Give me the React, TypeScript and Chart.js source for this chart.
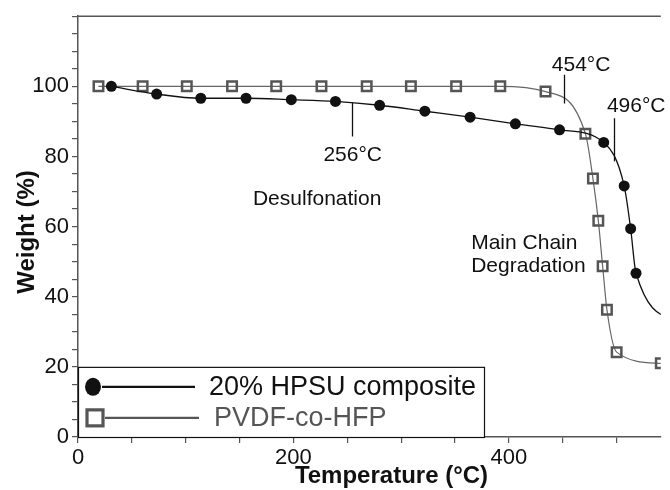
import React, { useEffect, useRef } from 'react';
import { Chart, registerables } from 'chart.js';

Chart.register(...registerables);

// ---- data ----
const HPSU_T = [31, 73, 114, 156, 198, 239, 280, 322, 364, 406, 447, 488, 507, 513, 518, 560];
const HPSU_W = [100, 97.8, 96.6, 96.6, 96.2, 95.7, 94.6, 92.9, 91.2, 89.3, 87.6, 84.0, 71.6, 59.4, 46.7, 32];
const PVDF_T = [19, 60, 101, 143, 184, 226, 268, 309, 351, 392, 434, 471, 478, 483, 487, 491, 500, 541, 585];
const PVDF_W = [100, 100, 100, 100, 100, 100, 100, 100, 100, 100, 98.5, 86.5, 73.7, 61.7, 48.7, 36.3, 24.2, 21.0, 19.8];
const SERIES_NAMES = ['20% HPSU composite', 'PVDF-co-HFP'];
const X_TICKS = [0, 50, 100, 150, 200, 250, 300, 350, 400, 450, 500];
const X_LABELED = [0, 200, 400];
const Y_TICKS = [0, 5, 10, 15, 20, 25, 30, 35, 40, 45, 50, 55, 60, 65, 70, 75, 80, 85, 90, 95, 100, 105, 110, 115, 120];
const Y_LABELED = [0, 20, 40, 60, 80, 100];
const X_TITLE = 'Temperature (°C)';
const Y_TITLE = 'Weight (%)';

// annotation texts and marker lines, in data units
const NOTES = [
  { text: '454°C', x: 467, y: 106.1, align: 'center' },
  { text: '496°C', x: 491, y: 94.2, align: 'left' },
  { text: '256°C', x: 255, y: 80.3, align: 'center' },
  { text: 'Desulfonation', x: 222, y: 67.8, align: 'center' },
  { text: 'Main Chain', x: 365, y: 55.3, align: 'left' },
  { text: 'Degradation', x: 365, y: 48.8, align: 'left' },
];
const MARKS = [
  { x: 451, y1: 103.3, y2: 95.1 },
  { x: 498, y1: 90.9, y2: 78.6 },
  { x: 254.5, y1: 95.4, y2: 85.7 },
];

const FONT = '"Liberation Sans", Arial, Helvetica, sans-serif';
const AXIS = '#555';
const INK = '#111';
const GREY = '#555';

const decor = {
  id: 'decor',
  afterDraw(chart: any) {
    const { ctx, chartArea: ca } = chart;
    const xs = chart.scales.x;
    const ys = chart.scales.y;
    ctx.save();
    // top frame line
    ctx.strokeStyle = AXIS;
    ctx.lineWidth = 1.5;
    ctx.beginPath();
    ctx.moveTo(ca.left, ca.top);
    ctx.lineTo(ca.right, ca.top);
    ctx.stroke();

    // marker lines
    ctx.strokeStyle = INK;
    ctx.lineWidth = 1.3;
    for (const m of MARKS) {
      const px = Math.round(xs.getPixelForValue(m.x)) + 0.5;
      ctx.beginPath();
      ctx.moveTo(px, ys.getPixelForValue(m.y1));
      ctx.lineTo(px, ys.getPixelForValue(m.y2));
      ctx.stroke();
    }

    // annotation texts
    ctx.fillStyle = INK;
    ctx.font = `21px ${FONT}`;
    ctx.textBaseline = 'middle';
    for (const n of NOTES) {
      ctx.textAlign = n.align as CanvasTextAlign;
      ctx.fillText(n.text, xs.getPixelForValue(n.x), ys.getPixelForValue(n.y));
    }

    // legend box
    const lx = ca.left;
    const ly = ys.getPixelForValue(20);
    const lw = 406;
    const lh = ca.bottom - ly;
    ctx.fillStyle = '#fff';
    ctx.fillRect(lx, ly, lw, lh);
    ctx.strokeStyle = INK;
    ctx.lineWidth = 1.2;
    ctx.strokeRect(lx + 0.5, ly + 0.5, lw, lh);

    const r1 = ly + 20;
    const r2 = ly + 51;
    // row 1
    ctx.fillStyle = INK;
    ctx.beginPath();
    ctx.ellipse(lx + 15, r1, 8, 9, 0, 0, Math.PI * 2);
    ctx.fill();
    ctx.strokeStyle = INK;
    ctx.lineWidth = 2.2;
    ctx.beginPath();
    ctx.moveTo(lx + 24, r1);
    ctx.lineTo(lx + 117, r1);
    ctx.stroke();
    ctx.font = `27px ${FONT}`;
    ctx.textAlign = 'left';
    ctx.textBaseline = 'middle';
    ctx.fillText(chart.data.datasets[0].label, lx + 131, r1 + 1);
    // row 2
    ctx.strokeStyle = GREY;
    ctx.lineWidth = 3.2;
    ctx.strokeRect(lx + 9, r2 - 8, 16, 16);
    ctx.lineWidth = 2.2;
    ctx.beginPath();
    ctx.moveTo(lx + 27, r2);
    ctx.lineTo(lx + 121, r2);
    ctx.stroke();
    ctx.fillStyle = GREY;
    ctx.fillText(chart.data.datasets[1].label, lx + 136, r2 + 1);

    // axis titles
    ctx.fillStyle = INK;
    ctx.font = `bold 24px ${FONT}`;
    ctx.textAlign = 'center';
    ctx.textBaseline = 'alphabetic';
    ctx.fillText(X_TITLE, xs.getPixelForValue(291), 483);
    ctx.save();
    ctx.translate(34, 232);
    ctx.rotate(-Math.PI / 2);
    ctx.fillText(Y_TITLE, 0, 0);
    ctx.restore();

    ctx.restore();
  },
};

export default function App() {
  const ref = useRef<HTMLCanvasElement | null>(null);
  useEffect(() => {
    if (!ref.current) return;
    const chart = new Chart(ref.current, {
      type: 'line',
      data: {
        datasets: [
          {
            label: SERIES_NAMES[0],
            data: HPSU_T.map((t, i) => ({ x: t, y: HPSU_W[i] })),
            borderColor: INK,
            borderWidth: 1.3,
            pointStyle: 'circle',
            pointRadius: 5.5,
            pointBackgroundColor: INK,
            pointBorderColor: INK,
            pointBorderWidth: 0,
            cubicInterpolationMode: 'monotone',
            fill: false,
          },
          {
            label: SERIES_NAMES[1],
            data: PVDF_T.map((t, i) => ({ x: t, y: PVDF_W[i] })),
            borderColor: '#666',
            borderWidth: 1.2,
            pointStyle: 'rect',
            pointRadius: 6.7,
            pointBackgroundColor: 'rgba(0,0,0,0)',
            pointBorderColor: GREY,
            pointBorderWidth: 2.5,
            cubicInterpolationMode: 'monotone',
            fill: false,
          },
        ],
      },
      options: {
        responsive: false,
        animation: false,
        devicePixelRatio: 1,
        layout: { padding: { top: 14, right: 0, left: 0, bottom: 0 } },
        plugins: { legend: { display: false }, tooltip: { enabled: false } },
        scales: {
          x: {
            type: 'linear',
            min: 0,
            max: 541,
            afterFit: (s: any) => { s.height = 53; },
            afterBuildTicks: (s: any) => { s.ticks = X_TICKS.map((v) => ({ value: v })); },
            ticks: {
              autoSkip: false,
              maxRotation: 0,
              padding: 2,
              color: INK,
              font: { family: FONT, size: 22 },
              callback: (v: any) => (X_LABELED.includes(Number(v)) ? String(v) : ''),
            },
            grid: { display: true, drawOnChartArea: false, drawTicks: true, tickLength: 6, color: AXIS, lineWidth: 1.2 },
            border: { display: true, color: AXIS, width: 1.5 },
          },
          y: {
            type: 'linear',
            min: 0,
            max: 120,
            afterFit: (s: any) => { s.width = 78; },
            afterBuildTicks: (s: any) => { s.ticks = Y_TICKS.map((v) => ({ value: v })); },
            ticks: {
              autoSkip: false,
              padding: 3,
              color: INK,
              font: { family: FONT, size: 22 },
              callback: (v: any) => (Y_LABELED.includes(Number(v)) ? String(v) : ''),
            },
            grid: { display: true, drawOnChartArea: false, drawTicks: true, tickLength: 6, color: AXIS, lineWidth: 1.2 },
            border: { display: true, color: AXIS, width: 1.5 },
          },
        },
      },
      plugins: [decor],
    } as any);
    return () => chart.destroy();
  }, []);
  return (
    <div style={{ position: 'fixed', left: 0, top: 0, width: 670, height: 490, background: '#fff' }}>
      <canvas ref={ref} width={670} height={490} style={{ display: 'block', width: 670, height: 490 }} />
    </div>
  );
}
